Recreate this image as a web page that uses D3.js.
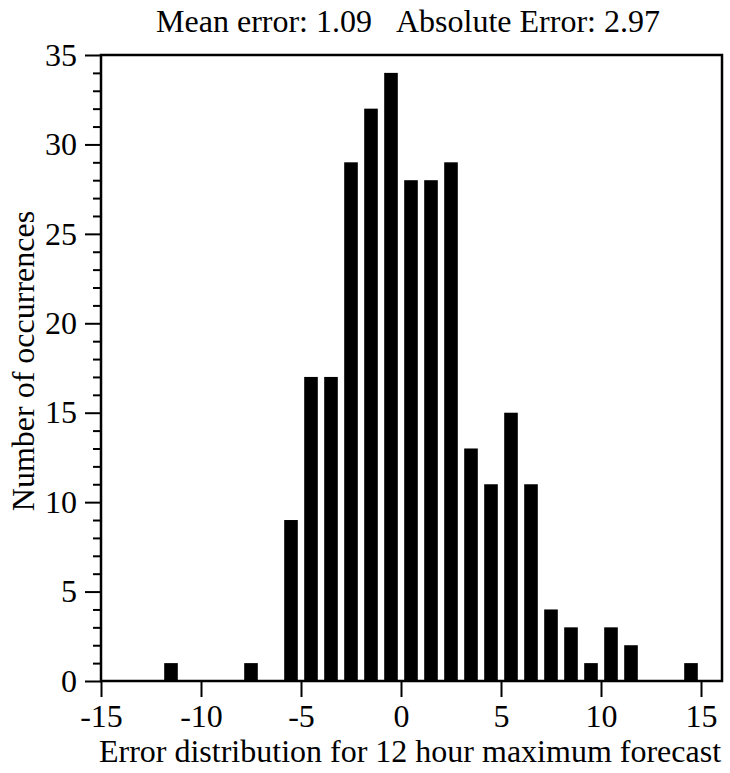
<!DOCTYPE html>
<html><head><meta charset="utf-8">
<script src="https://d3js.org/d3.v7.min.js"></script>
<style>body{margin:0;background:#fff}svg{display:block}</style>
</head><body>
<script>
const binCenters = [-11.5,-7.5,-5.5,-4.5,-3.5,-2.5,-1.5,-0.5,0.5,1.5,2.5,3.5,4.5,5.5,6.5,7.5,8.5,9.5,10.5,11.5,14.5];
const counts     = [1,1,9,17,17,29,32,34,28,28,29,13,11,15,11,4,3,1,3,2,1];
const xTicks = [-15,-10,-5,0,5,10,15];
const yTicks = [0,5,10,15,20,25,30,35];
const titleText = "Mean error: 1.09\u00a0\u00a0\u00a0Absolute Error: 2.97";
const xLabel = "Error distribution for 12 hour maximum forecast";
const yLabel = "Number of occurrences";

const FONT = "Liberation Serif, Times New Roman, serif";
const FS = 32;
const W=730,H=773;
const svg=d3.select("body").append("svg").attr("width",W).attr("height",H)
  .attr("font-family",FONT);
const x=d3.scaleLinear().domain([-15,16.05]).range([101,722]);
const y=d3.scaleLinear().domain([0,35]).range([681,55]);

// bars
svg.append("g").selectAll("rect").data(binCenters).join("rect")
  .attr("x",d=>x(d-0.34)).attr("width",x(0.68)-x(0))
  .attr("y",(d,i)=>y(counts[i])).attr("height",(d,i)=>y(0)-y(counts[i]))
  .attr("fill","#000");

// frame
svg.append("rect").attr("x",x(-15)).attr("y",y(35)).attr("width",x(16.05)-x(-15)).attr("height",y(0)-y(35))
  .attr("fill","none").attr("stroke","#000").attr("stroke-width",2.5);

// y axis
const ya=svg.append("g").attr("transform",`translate(${x(-15)},0)`)
  .call(d3.axisLeft(y).tickValues(yTicks).tickSize(16).tickPadding(8).tickFormat(d3.format("d")))
  .attr("font-family",FONT).attr("font-size",FS);
ya.select(".domain").remove();
ya.selectAll("line").attr("stroke-width",2);
ya.selectAll("text").attr("fill","#000");
const yMinor=d3.range(0,36).filter(v=>v%5!==0);
svg.append("g").attr("transform",`translate(${x(-15)},0)`)
  .call(d3.axisLeft(y).tickValues(yMinor).tickSize(8).tickFormat(""))
  .call(g=>g.select(".domain").remove())
  .selectAll("line").attr("stroke-width",2);

// x axis
const xa=svg.append("g").attr("transform",`translate(0,${y(0)})`)
  .call(d3.axisBottom(x).tickValues(xTicks).tickSize(16).tickPadding(7).tickFormat(d=>d<0?"-"+Math.abs(d):String(d)))
  .attr("font-family",FONT).attr("font-size",FS);
xa.select(".domain").remove();
xa.selectAll("line").attr("stroke-width",2);
xa.selectAll("text").attr("fill","#000");

// title & labels
svg.append("text").attr("x",408).attr("y",32).attr("text-anchor","middle").attr("font-size",FS).text(titleText);
svg.append("text").attr("x",410).attr("y",762).attr("text-anchor","middle").attr("font-size",FS).text(xLabel);
svg.append("text").attr("transform","translate(34,361) rotate(-90)").attr("text-anchor","middle").attr("font-size",FS).text(yLabel);
</script>
</body></html>
